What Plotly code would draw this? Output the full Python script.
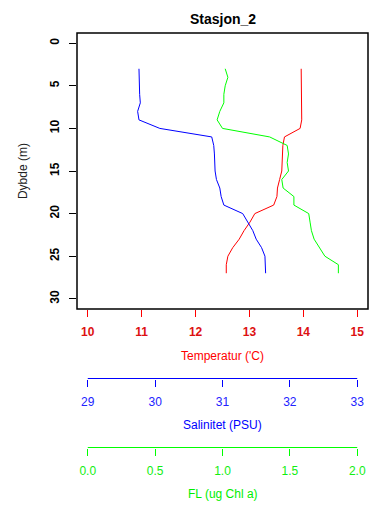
import plotly.graph_objects as go

# ---- data ----
depth = list(range(3, 28))
temperature = [13.96, 13.96, 13.96, 13.97, 13.97, 13.97, 13.97, 13.94, 13.65, 13.62,
               13.61, 13.61, 13.60, 13.56, 13.52, 13.51, 13.45, 13.10, 13.01, 12.90,
               12.81, 12.69, 12.60, 12.57, 12.57]
salinity = [29.76, 29.76, 29.77, 29.77, 29.78, 29.74, 29.76, 30.07, 30.84, 30.87,
            30.88, 30.88, 30.89, 30.91, 30.96, 30.98, 31.02, 31.30, 31.37, 31.45,
            31.50, 31.58, 31.63, 31.64, 31.64]
fluor = [1.02, 1.04, 1.02, 1.01, 1.01, 0.98, 0.96, 1.00, 1.35, 1.48,
         1.49, 1.48, 1.49, 1.44, 1.45, 1.53, 1.53, 1.64, 1.65, 1.66,
         1.68, 1.72, 1.76, 1.86, 1.86]

temp_ticks = [10, 11, 12, 13, 14, 15]
sal_ticks = [29, 30, 31, 32, 33]
fl_ticks = [0.0, 0.5, 1.0, 1.5, 2.0]
depth_ticks = [0, 5, 10, 15, 20, 25, 30]

W, H = 372, 505
ML, MR, MT, MB = 77, 3.5, 33, 0
PH = H - MT - MB


def py(pix):  # page pixel y -> paper fraction
    return (H - MB - pix) / PH


def px(pix):  # page pixel x -> paper fraction
    return (pix - ML) / (W - ML - MR)


FONT = "Liberation Sans, Arial, Helvetica, sans-serif"
ydom0 = py(309)
sal_pos = py(378.5)
fl_pos = py(447.5)

fig = go.Figure()
fig.add_trace(go.Scatter(x=temperature, y=depth, mode="lines",
                         line=dict(color="#ff0000", width=1), xaxis="x", yaxis="y"))
fig.add_trace(go.Scatter(x=salinity, y=depth, mode="lines",
                         line=dict(color="#0000ff", width=1), xaxis="x2", yaxis="y"))
fig.add_trace(go.Scatter(x=fluor, y=depth, mode="lines",
                         line=dict(color="#00ff00", width=1), xaxis="x3", yaxis="y"))


def ext(lo, hi):
    d = (hi - lo) * 0.04
    return [lo - d, hi + d]


common = dict(showgrid=False, zeroline=False, showline=False, ticks="outside",
              ticklen=7, tickwidth=1, automargin=False)

fig.update_layout(
    width=W, height=H,
    margin=dict(l=ML, r=MR, t=MT, b=MB, pad=0, autoexpand=False),
    paper_bgcolor="white", plot_bgcolor="rgba(0,0,0,0)",
    showlegend=False,
    font=dict(family=FONT, size=12, color="black"),
    xaxis=dict(range=ext(10, 15), tickvals=temp_ticks, tickcolor="#ff0000",
               tickfont=dict(family=FONT, size=12, color="#dd1111", weight="bold"),
               ticklabelstandoff=5, anchor="y", **common),
    xaxis2=dict(range=ext(29, 33), tickvals=sal_ticks, tickcolor="#0000ff",
                tickfont=dict(family=FONT, size=12, color="#2222ff"),
                overlaying="x", anchor="free", position=sal_pos, side="bottom",
                ticklabelstandoff=5, **common),
    xaxis3=dict(range=ext(0, 2), tickvals=fl_ticks, tickformat=".1f", tickcolor="#00ff00",
                tickfont=dict(family=FONT, size=12, color="#11ee11"),
                overlaying="x", anchor="free", position=fl_pos, side="bottom",
                ticklabelstandoff=5, **common),
    yaxis=dict(range=[31.2, -1.2], domain=[ydom0, 1], tickvals=depth_ticks,
               tickcolor="black", tickangle=-90,
               tickfont=dict(family=FONT, size=12, color="black", weight="bold"),
               ticklabelstandoff=5, anchor="x", **common),
)

# plot box
fig.add_shape(type="rect", xref="paper", yref="paper", x0=0, x1=1, y0=ydom0, y1=1,
              line=dict(color="black", width=1.5), layer="above")
# axis lines for extra axes (from first to last tick)
fig.add_shape(type="line", xref="x2", yref="paper", x0=sal_ticks[0], x1=sal_ticks[-1],
              y0=sal_pos, y1=sal_pos, line=dict(color="#0000ff", width=1))
fig.add_shape(type="line", xref="x3", yref="paper", x0=fl_ticks[0], x1=fl_ticks[-1],
              y0=fl_pos, y1=fl_pos, line=dict(color="#00ff00", width=1))

ann = [
    dict(text="<b>Stasjon_2</b>", x=0.5, y=py(19), size=14, color="black"),
    dict(text="Temperatur ('C)", x=0.5, y=py(356), size=12, color="#ff0000"),
    dict(text="Salinitet (PSU)", x=0.5, y=py(425), size=12, color="#0000ff"),
    dict(text="FL (ug Chl a)", x=0.5, y=py(493.5), size=12, color="#00ee00"),
]
for a in ann:
    fig.add_annotation(text=a["text"], x=a["x"], y=a["y"], xref="paper", yref="paper",
                       showarrow=False, xanchor="center", yanchor="middle",
                       font=dict(family=FONT, size=a["size"], color=a["color"]))
fig.add_annotation(text="Dybde (m)", x=px(23), y=py(171), xref="paper", yref="paper",
                   showarrow=False, xanchor="center", yanchor="middle", textangle=-90,
                   font=dict(family=FONT, size=12, color="#222222"))

fig.write_html(
    "out.html",
    config={"displayModeBar": False},
    post_script="document.body.style.margin='0';document.body.style.overflow='hidden';",
)
